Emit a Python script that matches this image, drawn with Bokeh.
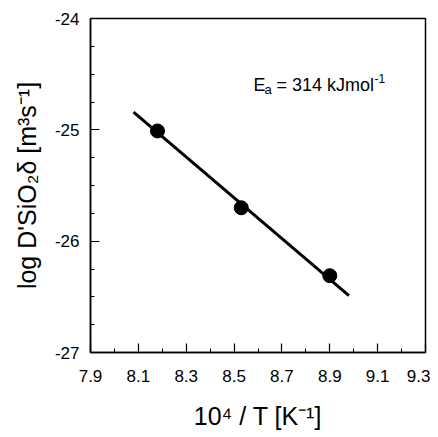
from bokeh.plotting import figure
from bokeh.models import FixedTicker, Label, Range1d
from bokeh.embed import file_html
from bokeh.resources import INLINE

# data
inv_T = [8.18, 8.53, 8.90]
log_D = [-25.01, -25.70, -26.31]
fit_x = [8.08, 8.98]
fit_y = [-24.84, -26.49]

x_major = [7.9, 8.1, 8.3, 8.5, 8.7, 8.9, 9.1, 9.3]
x_minor = [8.0, 8.2, 8.4, 8.6, 8.8, 9.0, 9.2]
y_major = [-27, -26, -25, -24]
y_minor = [-26.75, -26.5, -26.25, -25.75, -25.5, -25.25, -24.75, -24.5, -24.25]
y_labels = {-27: "-27", -26: "-26", -25: "-25", -24: "-24"}
x_title = "10⁴ / T [K⁻¹]"
y_title = "log D'SiO₂δ [m³s⁻¹]"

FONT = "Liberation Sans"

p = figure(width=430, height=435, output_backend="svg", toolbar_location=None,
           x_range=Range1d(7.9, 9.3), y_range=Range1d(-27, -24),
           min_border_left=90, min_border_right=5, min_border_top=18, min_border_bottom=83)
p.grid.visible = False
p.outline_line_color = "black"
p.outline_line_width = 1.5
p.background_fill_color = "white"
p.border_fill_color = "white"

for ax, maj, mnr in ((p.xaxis[0], x_major, x_minor), (p.yaxis[0], y_major, y_minor)):
    ax.ticker = FixedTicker(ticks=maj, minor_ticks=mnr)
    ax.major_tick_in = 9
    ax.major_tick_out = 0
    ax.minor_tick_in = 4
    ax.minor_tick_out = 0
    ax.axis_line_width = 1.5
    ax.major_tick_line_width = 1.2
    ax.minor_tick_line_width = 1
    ax.major_label_text_font = FONT
    ax.major_label_text_font_size = "17px"
    ax.major_label_text_color = "black"
    ax.axis_label_text_font = FONT
    ax.axis_label_text_font_style = "normal"
    ax.axis_label_text_font_size = "25px"
    ax.axis_label_text_color = "black"

p.xaxis.major_label_standoff = 17
p.xaxis.axis_label = x_title
p.xaxis.axis_label_standoff = 17
p.yaxis.major_label_standoff = 11
p.yaxis.major_label_overrides = y_labels
p.yaxis.axis_label = y_title
p.yaxis.axis_label_standoff = 11

p.line(fit_x, fit_y, line_color="black", line_width=3)
p.scatter(inv_T, log_D, size=14, color="black")

# annotation E_a = 314 kJmol^-1
ax0, ay0 = 8.581, -24.593
for txt, dx, dy, fs in [("E", 0, 0, "18px"), ("a", 11, -5, "13px"),
                        ("= 314 kJmol", 23, 0, "18px"), ("-1", 121, 6, "12px")]:
    p.add_layout(Label(x=ax0, y=ay0, text=txt, x_offset=dx, y_offset=dy,
                       text_font=FONT, text_font_size=fs, text_color="black",
                       text_baseline="alphabetic", text_align="left"))

open("out.html", "w").write(file_html(p, INLINE))
